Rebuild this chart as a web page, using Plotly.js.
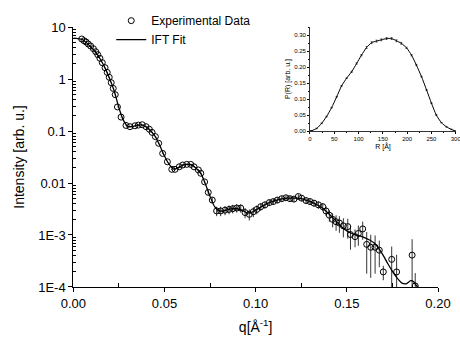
<!DOCTYPE html>
<html>
<head>
<meta charset="utf-8">
<script src="https://cdn.plot.ly/plotly-3.0.1.min.js"></script>
<style>html,body{margin:0;padding:0;background:#fff;}#chart{width:460px;height:341px;}</style>
</head>
<body>
<div id="chart"></div>
<script>
// Experimental scattering data
var qData = [0.0046,0.0059,0.0070,0.0082,0.0095,0.0110,0.0123,0.0134,0.0146,0.0159,0.0174,0.0186,0.0197,0.0208,0.0219,0.0230,0.0242,0.0262,0.0289,0.0311,0.0338,0.0357,0.0378,0.0399,0.0417,0.0432,0.0450,0.0468,0.0490,0.0516,0.0540,0.0558,0.0581,0.0600,0.0622,0.0644,0.0662,0.0686,0.0699,0.0720,0.0740,0.0762,0.0786,0.0808,0.0832,0.0854,0.0874,0.0896,0.0918,0.0942,0.0965,0.0987,0.1006,0.1028,0.1051,0.1075,0.1097,0.1119,0.1143,0.1166,0.1188,0.1210,0.1234,0.1252,0.1276,0.1298,0.1320,0.1344,0.1368,0.1386,0.1404,0.1422,0.1441,0.1459,0.1481,0.1505,0.1520,0.1545,0.1563,0.1587,0.1609,0.1631,0.1655,0.1678,0.1700,0.1746,0.1773,0.1858,0.1875];
var iData = [5.88,5.45,5.15,4.71,4.31,3.83,3.35,2.94,2.50,2.06,1.65,1.34,1.08,0.85,0.66,0.50,0.29,0.185,0.128,0.121,0.126,0.130,0.132,0.121,0.108,0.094,0.078,0.058,0.037,0.0256,0.0183,0.0183,0.0205,0.0222,0.0228,0.0228,0.0205,0.0178,0.0154,0.0105,0.0066,0.0047,0.0029,0.0029,0.0030,0.0031,0.0032,0.0033,0.0033,0.0027,0.0025,0.0028,0.0031,0.0035,0.0038,0.0042,0.0044,0.0047,0.0050,0.0052,0.0050,0.0049,0.0055,0.0051,0.0046,0.0044,0.0041,0.0038,0.0035,0.0029,0.0024,0.0020,0.0018,0.0017,0.0015,0.00145,0.00102,0.00093,0.00107,0.00131,0.00066,0.00058,0.00058,0.00051,0.000195,0.00034,0.000195,0.00041,0.000105];
// error bars (absolute, same units as intensity)
var iErr = [0.06,0.05,0.05,0.05,0.04,0.04,0.03,0.03,0.03,0.02,0.02,0.015,0.012,0.01,0.008,0.006,0.004,0.003,0.002,0.002,0.002,0.002,0.002,0.002,0.002,0.002,0.0015,0.0012,0.001,0.0008,0.0006,0.0006,0.0007,0.0007,0.0007,0.0007,0.0007,0.0006,0.0006,0.0006,0.0006,0.0006,0.0006,0.0006,0.0006,0.0006,0.0006,0.0006,0.0006,0.0006,0.0006,0.0006,0.0006,0.0006,0.0006,0.0006,0.0006,0.0006,0.0006,0.0006,0.0006,0.0006,0.0006,0.0006,0.0006,0.0006,0.0006,0.0006,0.0006,0.0006,0.0006,0.0006,0.0006,0.0006,0.0006,0.0006,0.0005,0.00035,0.00045,0.0005,0.00048,0.00043,0.0004,0.00027,0.00006,0.00026,0.00022,0.00042,0.00008];
// IFT fit curve
var qFit = [0.000,0.0025,0.005,0.0075,0.010,0.0125,0.015,0.0175,0.020,0.0225,0.025,0.0275,0.030,0.0325,0.035,0.0375,0.040,0.0425,0.045,0.0475,0.050,0.0525,0.055,0.0575,0.060,0.0625,0.065,0.0675,0.070,0.0725,0.075,0.0775,0.080,0.0825,0.085,0.0875,0.090,0.0925,0.095,0.0975,0.100,0.1025,0.105,0.1075,0.110,0.1125,0.115,0.1175,0.120,0.1225,0.125,0.1275,0.130,0.1325,0.135,0.1375,0.140,0.1425,0.145,0.1475,0.150,0.1525,0.155,0.1575,0.160,0.1625,0.165,0.1675,0.170,0.1725,0.175,0.1775,0.180,0.1825,0.185,0.1865,0.188,0.190];
var iFit = [6.1,6.0,5.7,4.9,4.0,3.2,2.35,1.6,1.0,0.58,0.28,0.16,0.122,0.122,0.129,0.131,0.12,0.1,0.078,0.052,0.033,0.023,0.0185,0.0195,0.022,0.0228,0.0223,0.019,0.0152,0.0095,0.0055,0.0035,0.0029,0.0029,0.0031,0.0032,0.0032,0.003,0.0027,0.0027,0.003,0.0034,0.0038,0.0042,0.0045,0.0048,0.005,0.0051,0.0051,0.0051,0.005,0.0047,0.0044,0.004,0.0036,0.0031,0.0026,0.0021,0.0017,0.0014,0.0012,0.00108,0.001,0.00095,0.00088,0.0008,0.0007,0.00055,0.0004,0.00028,0.0002,0.00015,0.00012,0.000115,0.000132,0.000128,0.000108,0.00009];
// Pair distance distribution (inset)
var rPR = [0,3.5,13.7,24,34,44.5,55,65,75.4,85.7,96,106,116.5,126.8,137,147,157.6,168,178,188,198.7,209,219,229.5,240,250,260,270.6,281,291,298];
var pPR = [0,0.001,0.008,0.024,0.045,0.073,0.107,0.141,0.165,0.185,0.211,0.237,0.261,0.276,0.281,0.285,0.289,0.289,0.282,0.274,0.260,0.237,0.206,0.170,0.128,0.087,0.050,0.026,0.013,0.005,0.001];
var pErr = [0,0,0.001,0.001,0.001,0.001,0.001,0.001,0.001,0.002,0.002,0.002,0.003,0.003,0.003,0.003,0.003,0.003,0.003,0.003,0.002,0.002,0.002,0.001,0.001,0.001,0.001,0.001,0.001,0.001,0];
var yTickVals = [1e-4,1e-3,0.01,0.1,1,10];
var yTickText = ['1E-4','1E-3','0.01','0.1','1','10'];
var rTickVals = [0,50,100,150,200,250,300];
var rTickText = ['0','50','100','150','200','250','300'];

var minorLog = [];
for (var e = -4; e < 1; e++) { for (var m = 2; m <= 9; m++) { minorLog.push(m * Math.pow(10, e)); } }

var traces = [
  {x: qData, y: iData, type: 'scatter', mode: 'markers', name: 'Experimental Data',
   marker: {symbol: 'circle-open', size: 6, color: '#000', line: {width: 1, color: '#000'}},
   error_y: {type: 'data', array: iErr, visible: true, color: '#000', thickness: 0.8, width: 0},
   xaxis: 'x', yaxis: 'y'},
  {x: qFit, y: iFit, type: 'scatter', mode: 'lines', name: 'IFT Fit',
   line: {color: '#000', width: 1.3, shape: 'spline', smoothing: 0.6}, xaxis: 'x', yaxis: 'y'},
  {x: rPR, y: pPR, type: 'scatter', mode: 'lines', showlegend: false,
   line: {color: '#000', width: 1, shape: 'spline', smoothing: 0.6},
   error_y: {type: 'data', array: pErr, visible: true, color: '#000', thickness: 0.6, width: 1},
   xaxis: 'x2', yaxis: 'y2', cliponaxis: false}
];

var fam = 'Liberation Sans, Arial, sans-serif';
var layout = {
  width: 460, height: 341,
  margin: {l: 10, r: 2, t: 10, b: 10},
  paper_bgcolor: '#fff', plot_bgcolor: 'rgba(0,0,0,0)',
  font: {family: fam, color: '#000', size: 13},
  showlegend: true,
  legend: {x: 0.226, y: 1.012, xanchor: 'left', yanchor: 'top', bgcolor: 'rgba(0,0,0,0)',
           font: {size: 12, family: fam}, tracegroupgap: 0},
  xaxis: {domain: [0.1413, 0.9554], range: [0, 0.2], showgrid: false, zeroline: false,
          showline: true, linecolor: '#000', linewidth: 1,
          tickvals: [0, 0.05, 0.10, 0.15, 0.20], ticktext: ['0.00','0.05','0.10','0.15','0.20'],
          ticks: 'outside', ticklen: 4, tickcolor: '#000',
          minor: {tickvals: [0.025, 0.075, 0.125, 0.175], ticks: 'inside', ticklen: 4, tickcolor: '#000'},
          tickfont: {size: 13}, anchor: 'y',
          title: {text: 'q[Å<sup>-1</sup>]', font: {size: 14}, standoff: 12}},
  yaxis: {domain: [0.1371, 0.947], type: 'log', range: [-4, 1], showgrid: false, zeroline: false,
          showline: true, linecolor: '#000', linewidth: 1,
          tickvals: yTickVals, ticktext: yTickText,
          ticks: 'outside', ticklen: 4, tickcolor: '#000',
          minor: {tickvals: minorLog, ticks: 'inside', ticklen: 3, tickcolor: '#000'},
          tickfont: {size: 13}, anchor: 'x',
          title: {text: 'Intensity [arb. u.]', font: {size: 14}, standoff: 10}},
  xaxis2: {domain: [0.6696, 0.9955], range: [0, 300.5], showgrid: false, zeroline: false,
           showline: true, linecolor: '#000', linewidth: 0.8, anchor: 'y2',
           tickvals: rTickVals, ticktext: rTickText, ticks: 'outside', ticklen: 2, tickcolor: '#000',
           ticklabeloverflow: 'allow',
           minor: {dtick: 25, ticks: 'outside', ticklen: 1.5, tickcolor: '#000'},
           tickfont: {size: 6},
           title: {text: 'R [Å]', font: {size: 7}, standoff: 2}},
  yaxis2: {domain: [0.623, 0.947], range: [0, 0.325], showgrid: false, zeroline: false,
           showline: true, linecolor: '#000', linewidth: 0.8, anchor: 'x2',
           dtick: 0.05, tick0: 0, tickformat: '.2f', ticks: 'outside', ticklen: 2, tickcolor: '#000',
           minor: {dtick: 0.025, ticks: 'outside', ticklen: 1.5, tickcolor: '#000'},
           tickfont: {size: 6},
           title: {text: 'P(R) [arb. u.]', font: {size: 7}, standoff: 2}}
};

Plotly.newPlot('chart', traces, layout, {staticPlot: true, displayModeBar: false});
</script>
</body>
</html>
